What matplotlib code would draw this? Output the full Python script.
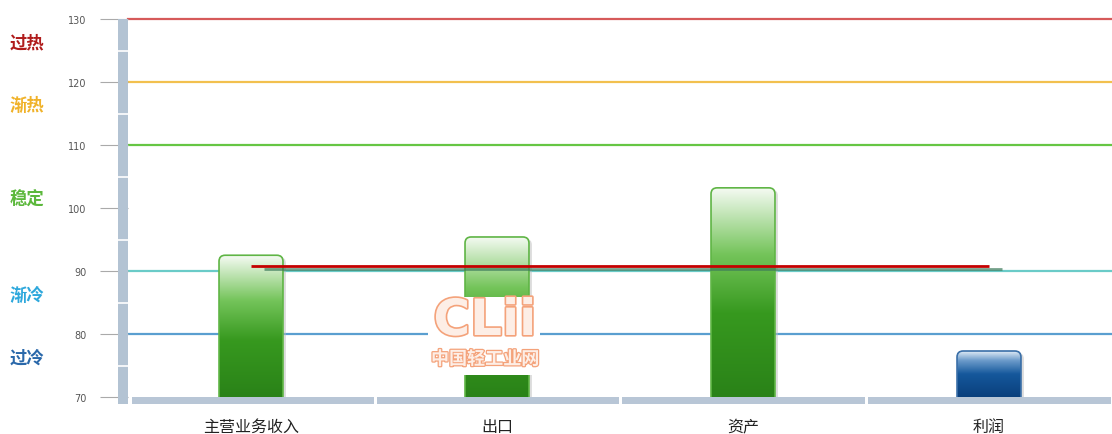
import matplotlib
matplotlib.use("Agg")
import matplotlib.pyplot as plt
import numpy as np
from matplotlib.patches import FancyBboxPatch, Rectangle
from matplotlib.colors import LinearSegmentedColormap
import matplotlib.patheffects as pe
import matplotlib.transforms as mtrans

plt.rcParams['font.family'] = ['Noto Sans CJK SC', 'DejaVu Sans']

# ---- data ----
categories = ['主营业务收入', '出口', '资产', '利润']
values = [92.5, 95.4, 103.2, 77.3]
bar_kinds = ['green', 'green', 'green', 'blue']
average_value = 90.8
threshold_values = [130, 120, 110, 90, 80]
threshold_colors = ['#d65a5a', '#f2c04e', '#66c644', '#6acbc8', '#5a9fd0']
zone_labels = ['过热', '渐热', '稳定', '渐冷', '过冷']
zone_label_y = [126.3, 116.3, 101.4, 86.2, 76.3]
zone_colors = ['#b01c1c', '#f0b22a', '#5cb83c', '#2ea8dc', '#2a68aa']
yticks = [70, 80, 90, 100, 110, 120, 130]

W, H = 1112, 435
fig = plt.figure(figsize=(W / 100, H / 100), dpi=100)
fig.patch.set_facecolor('white')
left_px, right_px, top_px, bot_px = 128, 1112, 20, 398
ax = fig.add_axes([left_px / W, 1 - bot_px / H, (right_px - left_px) / W, (bot_px - top_px) / H])
ax.set_facecolor('white')
for s in ax.spines.values():
    s.set_visible(False)

ax.set_xlim(-0.5, len(categories) - 0.5)
ax.set_ylim(70, 130)

# threshold lines
for v, c in zip(threshold_values, threshold_colors):
    ax.axhline(v, color=c, lw=1.6, zorder=1, clip_on=False)

# bars with gradient
cmap_green = LinearSegmentedColormap.from_list('g', [(0, '#2a8218'), (0.4, '#37991f'), (0.68, '#74c45a'), (1, '#f6fbf4')])
cmap_blue = LinearSegmentedColormap.from_list('b', [(0, '#0a3f7c'), (0.5, '#15589c'), (0.8, '#6d9ccb'), (1, '#e0ecf6')])
grad = np.linspace(0, 1, 256).reshape(-1, 1)
bw = 0.26
bars = ax.bar(range(len(categories)), np.array(values) - 70, bottom=70, width=bw,
              color='none', edgecolor='none', zorder=2)
for i, (b, v, kind) in enumerate(zip(bars, values, bar_kinds)):
    x0 = b.get_x()
    cmap = cmap_green if kind == 'green' else cmap_blue
    ec = '#5fb545' if kind == 'green' else '#3a6fa8'
    sh = FancyBboxPatch((x0 + 0.012, 66), bw, v - 66 - 0.3,
                        boxstyle="round,pad=0,rounding_size=0.025", mutation_aspect=39,
                        facecolor='#bbbbbb', edgecolor='none', alpha=0.5, zorder=2)
    ax.add_patch(sh)
    p = FancyBboxPatch((x0, 66), bw, v - 66,
                       boxstyle="round,pad=0,rounding_size=0.025", mutation_aspect=39,
                       facecolor='none', edgecolor=ec, lw=1.2, zorder=3.1)
    ax.add_patch(p)
    clip = FancyBboxPatch((x0, 66), bw, v - 66,
                          boxstyle="round,pad=0,rounding_size=0.025", mutation_aspect=39,
                          facecolor='none', edgecolor='none', transform=ax.transData)
    ax.add_patch(clip)
    im = ax.imshow(grad, cmap=cmap, origin='lower', aspect='auto',
                   extent=[x0, x0 + bw, 70, v], zorder=3, interpolation='bicubic')
    im.set_clip_path(clip)

ax.set_xlim(-0.5, len(categories) - 0.5)
ax.set_ylim(70, 130)

# average line with shadow
ax.plot([0, len(categories) - 1], [average_value, average_value], color='#c40000', lw=2.0,
        zorder=5, solid_capstyle='butt',
        path_effects=[pe.SimpleLineShadow(offset=(9, -2.5), shadow_color='#3d7a5a', alpha=0.7),
                      pe.Normal()])

# ticks
ax.set_yticks(yticks)
ax.set_yticklabels([str(t) for t in yticks], fontsize=7, color='#555555', family='DejaVu Sans')
ax.tick_params(axis='y', length=20, width=0.8, color='#aaaaaa', pad=10)
ax.set_xticks(range(len(categories)))
ax.set_xticklabels(categories, fontsize=11.5, color='#222222')
ax.tick_params(axis='x', length=0, pad=15)

# left grey bar with separators
fig.patches.append(Rectangle((118 / W, 1 - 405 / H), 10 / W, (405 - 20) / H,
                             transform=fig.transFigure, facecolor='#b3c3d3', edgecolor='none', zorder=4))
for v in [125, 115, 105, 95, 85, 75]:
    y = 1 - (20 + (130 - v) * 6.3) / H
    fig.lines.append(plt.Line2D([118 / W, 128 / W], [y, y], transform=fig.transFigure,
                                color='white', lw=1.2, zorder=5))
# bottom grey bar segmented
seg_edges = [130, 375, 620, 866, 1112]
for a, bnd in zip(seg_edges[:-1], seg_edges[1:]):
    fig.patches.append(Rectangle(((a + 1.5) / W, 1 - 405 / H), (bnd - a - 3) / W, 7 / H,
                                 transform=fig.transFigure, facecolor='#b8c6d6', edgecolor='none', zorder=4))

# zone labels
trans = mtrans.blended_transform_factory(fig.transFigure, ax.transData)
for lab, yv, c in zip(zone_labels, zone_label_y, zone_colors):
    ax.text(10 / W, yv, lab, transform=trans, color=c, fontsize=12.5, fontweight='bold',
            ha='left', va='center', clip_on=False)

# watermark
fig.patches.append(Rectangle((428 / W, 1 - 376 / H), 112 / W, 78 / H, transform=fig.transFigure,
                             facecolor='white', edgecolor='none', zorder=6))
fig.text(485 / W, 1 - 322 / H, 'CLii', fontsize=36, color='#fdeee6',
         ha='center', va='center', family='DejaVu Sans', fontweight='bold', zorder=7,
         path_effects=[pe.withStroke(linewidth=2.4, foreground='#f4a27a')])
fig.text(485 / W, 1 - 360 / H, '中国轻工业网', fontsize=13, color='#fdeee6',
         ha='center', va='center', zorder=7, fontweight='bold',
         path_effects=[pe.withStroke(linewidth=1.8, foreground='#f4a27a')])

fig.savefig('out.png', dpi=100)
